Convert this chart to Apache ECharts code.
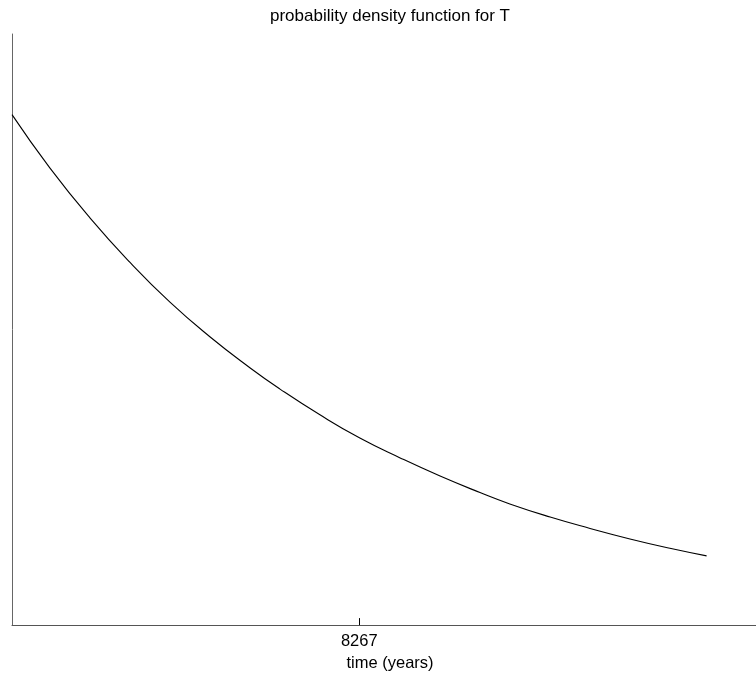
<!DOCTYPE html>
<html>
<head>
<meta charset="utf-8">
<script src="https://cdn.jsdelivr.net/npm/echarts@6/dist/echarts.min.js"></script>
<style>
html,body{margin:0;padding:0;background:#fff;}
#chart{width:756px;height:677px;}
</style>
</head>
<body>
<div id="chart"></div>
<script>
// values
var timeYears = [0, 900, 1860, 2810, 3760, 4710, 5670, 6380, 7330, 8280, 9240, 10190, 11140, 11850, 12810, 13760, 14710, 15660, 16534];
var density = [0.0001209, 0.0001083, 0.0000964, 0.0000859, 0.0000765, 0.0000683, 0.0000609, 0.0000559, 0.0000498, 0.0000443, 0.0000396, 0.0000353, 0.0000314, 0.0000287, 0.0000256, 0.0000229, 0.0000204, 0.0000182, 0.0000164];
var xTickValues = [8267];
var titleText = 'probability density function for T';
var xAxisName = 'time (years)';

var seriesData = timeYears.map(function (t, i) { return [t, density[i]]; });

var chart = echarts.init(document.getElementById('chart'), null, {renderer: 'canvas'});
chart.setOption({
  animation: false,
  backgroundColor: '#ffffff',
  title: {
    text: titleText,
    left: 390,
    top: 8,
    padding: 0,
    textAlign: 'center',
    textStyle: {fontFamily: 'Liberation Sans', fontSize: 17, fontWeight: 'normal', color: '#000'}
  },
  grid: {left: 12, top: 34, right: 0, height: 597.5, containLabel: false},
  xAxis: {
    type: 'value',
    min: 0,
    max: 17710,
    name: xAxisName,
    nameLocation: 'middle',
    nameGap: 29,
    nameTextStyle: {fontFamily: 'Liberation Sans', fontSize: 16.5, color: '#000', padding: [0, 0, 0, 12]},
    axisLine: {show: true, lineStyle: {color: '#555', width: 1}},
    axisTick: {show: true, inside: true, length: 7, customValues: xTickValues, lineStyle: {color: '#000', width: 1}},
    axisLabel: {show: true, customValues: xTickValues, margin: 8, fontFamily: 'Liberation Sans', fontSize: 16.5, color: '#000',
      formatter: function (v) { return String(Math.round(v)); }},
    splitLine: {show: false}
  },
  yAxis: {
    type: 'value',
    min: 0,
    max: 0.00014,
    axisLine: {show: true, lineStyle: {color: '#666', width: 1}},
    axisTick: {show: false},
    axisLabel: {show: false},
    splitLine: {show: false}
  },
  series: [{
    type: 'line',
    data: seriesData,
    smooth: 0.5,
    showSymbol: false,
    symbol: 'none',
    lineStyle: {color: '#000', width: 1.1}
  }]
});
</script>
</body>
</html>
